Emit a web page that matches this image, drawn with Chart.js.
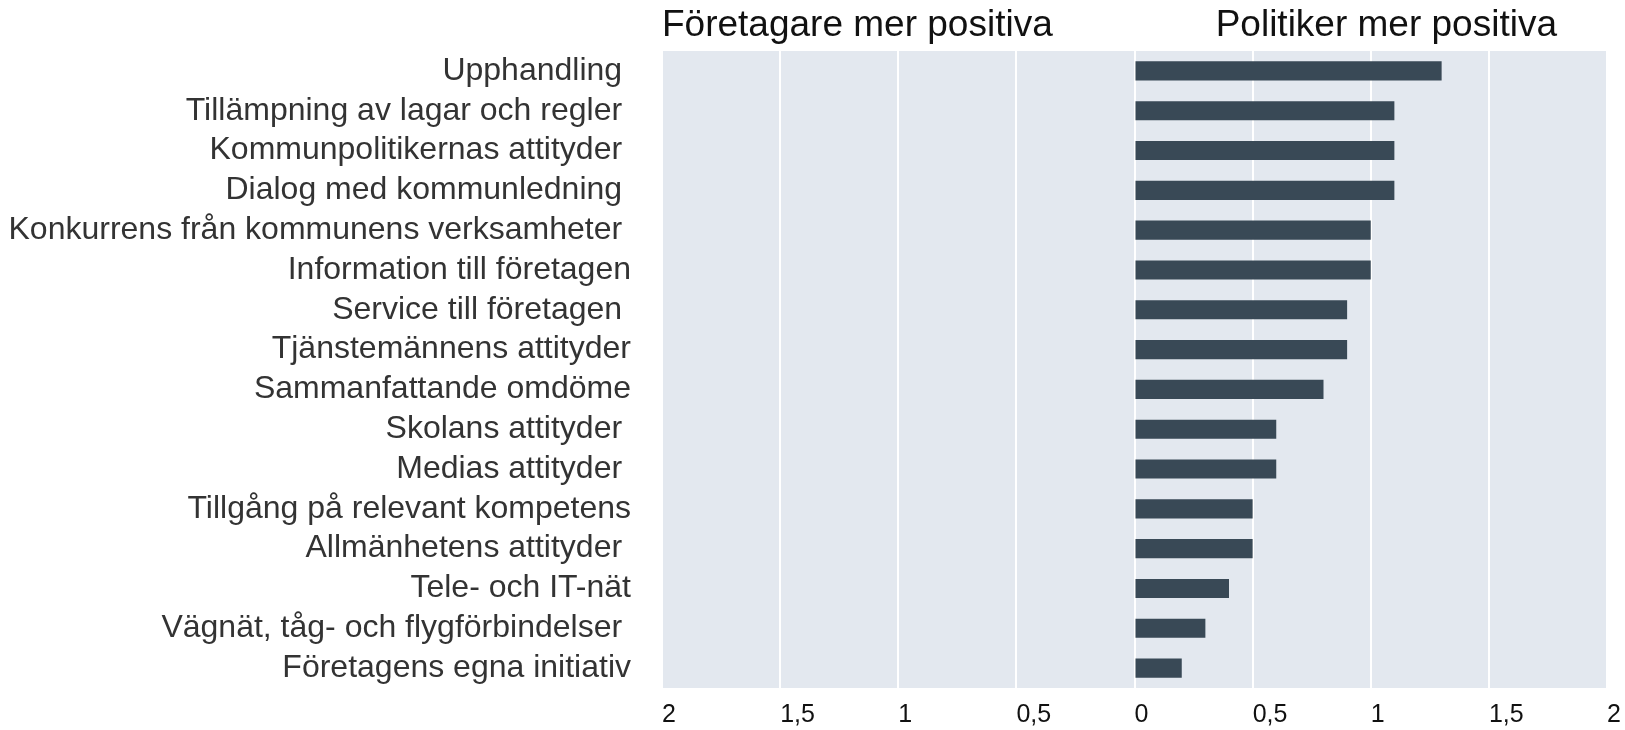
<!DOCTYPE html>
<html>
<head>
<meta charset="utf-8">
<script src="https://cdn.jsdelivr.net/npm/chart.js@4"></script>
<style>
  body { margin: 0; background: #fff; }
  #wrap { width: 1625px; height: 730px; }
</style>
</head>
<body>
<div id="wrap"><canvas id="chartGap" width="1625" height="730"></canvas></div>
<script>
// Kategorier (trailing spaces kept as in the original)
const categories = [
  'Upphandling ',
  'Tillämpning av lagar och regler ',
  'Kommunpolitikernas attityder ',
  'Dialog med kommunledning ',
  'Konkurrens från kommunens verksamheter ',
  'Information till företagen',
  'Service till företagen ',
  'Tjänstemännens attityder',
  'Sammanfattande omdöme',
  'Skolans attityder ',
  'Medias attityder ',
  'Tillgång på relevant kompetens',
  'Allmänhetens attityder ',
  'Tele- och IT-nät',
  'Vägnät, tåg- och flygförbindelser ',
  'Företagens egna initiativ'
];
// Skillnad politiker - företagare
const values = [1.3, 1.1, 1.1, 1.1, 1.0, 1.0, 0.9, 0.9, 0.8, 0.6, 0.6, 0.5, 0.5, 0.4, 0.3, 0.2];
const xMin = -2;
const xMax = 2;
const xStep = 0.5;
const headLeft = 'Företagare mer positiva';
const headRight = 'Politiker mer positiva';

const FONT = '"Liberation Sans", Arial, sans-serif';

const plotBg = {
  id: 'plotBg',
  beforeDraw(chart) {
    const a = chart.chartArea;
    const c = chart.ctx;
    c.save();
    c.fillStyle = '#e3e8ef';
    c.fillRect(a.left, a.top, a.right - a.left, a.bottom - a.top);
    c.restore();
  },
  afterDraw(chart) {
    const a = chart.chartArea;
    const c = chart.ctx;
    c.save();
    c.font = '37px ' + FONT;
    c.fillStyle = '#111';
    c.textBaseline = 'alphabetic';
    c.textAlign = 'left';
    c.fillText(headLeft, a.left, 36);
    c.textAlign = 'right';
    c.fillText(headRight, a.right - 50, 36);
    c.restore();
  }
};

const ctx = document.getElementById('chartGap');
const gapChart = new Chart(ctx, {
  type: 'bar',
  data: {
    labels: categories,
    datasets: [{
      data: values,
      backgroundColor: '#394956',
      barPercentage: 0.96,
      categoryPercentage: 0.5
    }]
  },
  options: {
    indexAxis: 'y',
    responsive: false,
    animation: false,
    devicePixelRatio: 1,
    layout: { padding: { top: 51, right: 18, bottom: 0, left: 0 } },
    plugins: {
      legend: { display: false },
      tooltip: { enabled: false }
    },
    scales: {
      x: {
        min: xMin,
        max: xMax,
        border: { display: false },
        grid: { color: '#ffffff', lineWidth: 2, drawTicks: false },
        ticks: {
          stepSize: xStep,
          align: 'start',
          padding: 12,
          color: '#111',
          font: { family: FONT, size: 25 },
          callback: v => String(Math.abs(v)).replace('.', ',')
        },
        afterFit(scale) {
          scale.height = 42;
          scale.paddingLeft = 0;
          scale.paddingRight = 0;
        }
      },
      y: {
        border: { display: false },
        grid: { display: false, drawTicks: false },
        ticks: {
          autoSkip: false,
          padding: 31,
          color: '#333',
          font: { family: FONT, size: 32 }
        },
        afterFit(scale) {
          scale.width = 662;
          scale.paddingTop = 0;
          scale.paddingBottom = 0;
        }
      }
    }
  },
  plugins: [plotBg]
});
</script>
</body>
</html>
